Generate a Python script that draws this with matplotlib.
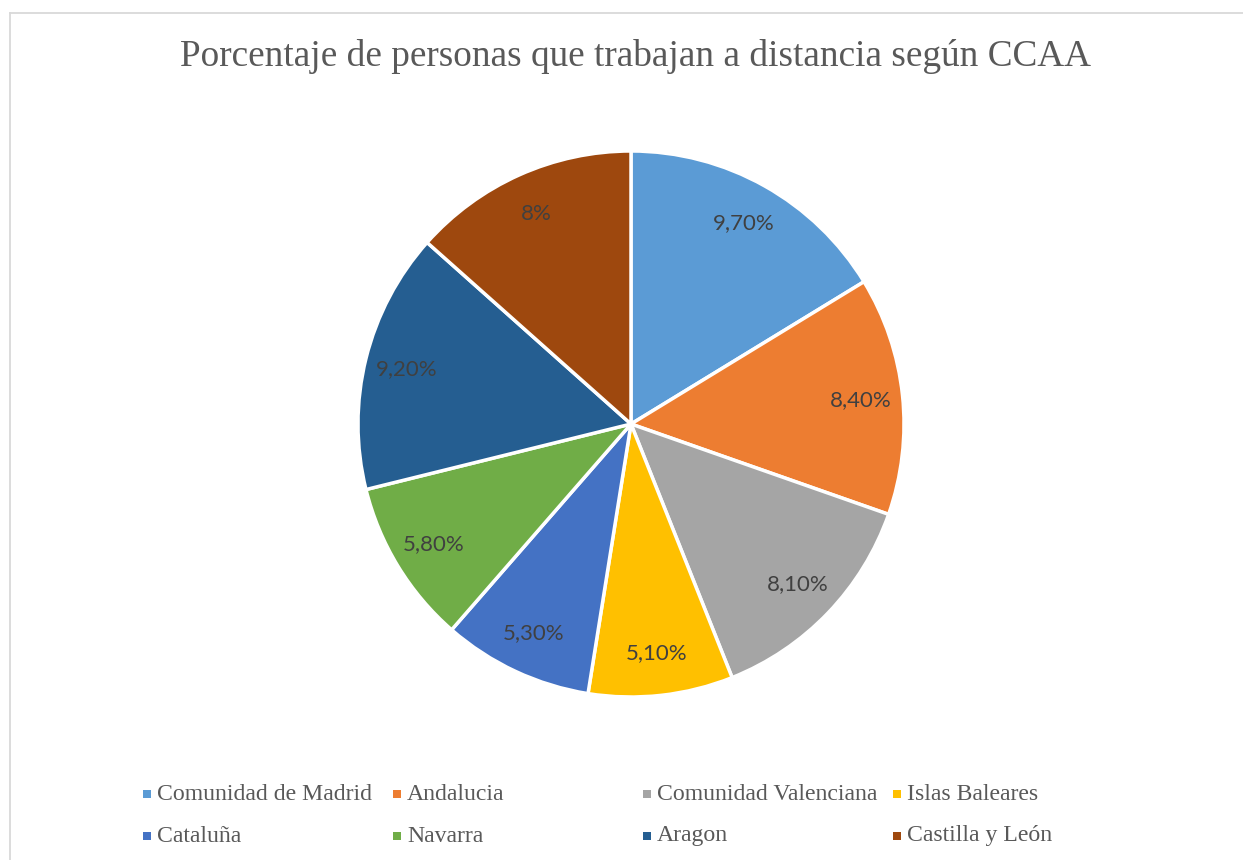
import matplotlib
matplotlib.use("Agg")
import matplotlib.pyplot as plt
from matplotlib.patches import Rectangle
from matplotlib.lines import Line2D

regions = ["Comunidad de Madrid", "Andalucia", "Comunidad Valenciana", "Islas Baleares",
           "Cataluña", "Navarra", "Aragon", "Castilla y León"]
values = [9.7, 8.4, 8.1, 5.1, 5.3, 5.8, 9.2, 8.0]
value_labels = ["9,70%", "8,40%", "8,10%", "5,10%", "5,30%", "5,80%", "9,20%", "8%"]
colors = ["#5B9BD5", "#ED7D31", "#A5A5A5", "#FFC000",
          "#4472C4", "#70AD47", "#255E91", "#9E480E"]
title = "Porcentaje de personas que trabajan a distancia según CCAA"

W, H = 1243, 860
fig = plt.figure(figsize=(W / 100, H / 100), dpi=100)

# chart border (only top and left edges are visible in the crop)
bx, by = 9.5 / W, 1 - 12.5 / H
fig.add_artist(Line2D([bx, 1.0], [by, by], transform=fig.transFigure,
                      color="#D9D9D9", linewidth=1.3))
fig.add_artist(Line2D([bx, bx], [0.0, by], transform=fig.transFigure,
                      color="#D9D9D9", linewidth=1.3))

fig.text(635 / W, 1 - 56 / H, title, ha="center", va="center",
         fontsize=26.8, color="#595959", family="Liberation Serif")

cx, cy, r = 631, 424, 273
ax = fig.add_axes([(cx - r) / W, (H - cy - r) / H, 2 * r / W, 2 * r / H])
lab_iter = iter(value_labels)
wedges, texts, autotexts = ax.pie(
    values, colors=colors, startangle=90, counterclock=False, radius=1,
    wedgeprops=dict(edgecolor="white", linewidth=2.5),
    autopct=lambda p: next(lab_iter), pctdistance=0.845,
    textprops=dict(fontsize=16, color="#404040", family="Lato"))
ax.set_xlim(-1, 1)
ax.set_ylim(-1, 1)
ax.set_aspect("equal")
ax.axis("off")

# legend laid out as a 4-column grid
col_x = [147, 397, 647, 897]
row_y = [794, 836]
sq = 8
for i, (name, col) in enumerate(zip(regions, colors)):
    x = col_x[i % 4]
    y = row_y[i // 4]
    fig.patches.append(Rectangle(((x - sq / 2) / W, (H - y - sq / 2) / H), sq / W, sq / H,
                                 transform=fig.transFigure, facecolor=col, edgecolor="none"))
    fig.text((x + 10) / W, 1 - y / H, name, ha="left", va="center",
             fontsize=17.1, color="#595959", family="Liberation Serif")

fig.savefig("out.png", dpi=100)
